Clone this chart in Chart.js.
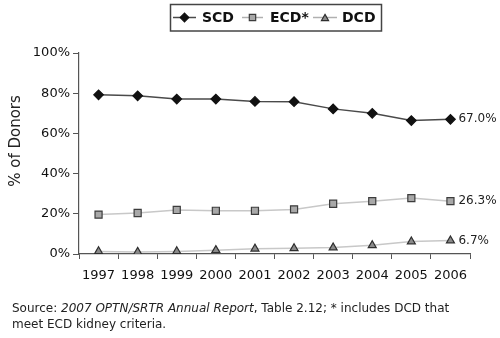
<!DOCTYPE html>
<html>
<head>
<meta charset="utf-8">
<script src="https://cdn.jsdelivr.net/npm/chart.js@4/dist/chart.umd.min.js"></script>
<style>
  html, body { margin: 0; padding: 0; background: #fff; }
  #wrap { width: 500px; height: 338px; }
</style>
</head>
<body>
<div id="wrap"><canvas id="c" width="500" height="338"></canvas></div>
<script>
// Share of deceased kidney donors by donor type, 1997-2006
const years = ['1997', '1998', '1999', '2000', '2001', '2002', '2003', '2004', '2005', '2006'];
const scd = [79.2, 78.7, 77.1, 77.1, 75.9, 75.8, 72.2, 70.0, 66.4, 67.0];
const ecd = [19.6, 20.4, 21.9, 21.5, 21.5, 22.2, 25.0, 26.3, 27.8, 26.3];
const dcd = [1.3, 1.0, 1.3, 1.9, 2.6, 2.8, 3.2, 4.3, 6.2, 6.7];
const seriesNames = ['SCD', 'ECD*', 'DCD'];
const yTicks = [0, 20, 40, 60, 80, 100];
const yTitle = '% of Donors';

const FONT = '"DejaVu Sans", "Liberation Sans", Arial, sans-serif';

const styles = [
  { line: '#4a4a4a', legendLine: '#4a4a4a', fill: '#111', border: '#111', pointStyle: 'rectRot', radius: 4.8 },
  { line: '#c8c8c8', legendLine: '#b0b0b0', fill: '#a8a8a8', border: '#3c3c3c', pointStyle: 'rect', radius: 5 },
  { line: '#c8c8c8', legendLine: '#b0b0b0', fill: '#8a8a8a', border: '#2e2e2e', pointStyle: 'triangle', radius: 4.6 }
];
const seriesData = [scd, ecd, dcd];

const datasets = seriesData.map((d, i) => ({
  label: seriesNames[i],
  data: d,
  borderColor: styles[i].line,
  borderWidth: 1.5,
  backgroundColor: styles[i].fill,
  pointStyle: styles[i].pointStyle,
  pointRadius: styles[i].radius,
  pointBackgroundColor: styles[i].fill,
  pointBorderColor: styles[i].border,
  pointBorderWidth: 1.2,
  tension: 0,
  fill: false
}));

// Legend box, axis title, end-of-series value labels and the source note
const decorations = {
  id: 'decorations',
  afterDraw(chart) {
    const ctx = chart.ctx;
    const xs = chart.scales.x, ys = chart.scales.y;

    // legend
    ctx.save();
    ctx.strokeStyle = '#444';
    ctx.lineWidth = 1.5;
    ctx.strokeRect(170.5, 4.5, 211, 26.5);
    const items = [
      { x0: 173, x1: 196, tx: 202 },
      { x0: 242, x1: 263, tx: 270 },
      { x0: 313, x1: 337, tx: 342 }
    ];
    const ly = 17.5;
    ctx.font = 'bold 14px ' + FONT;
    ctx.textBaseline = 'middle';
    ctx.textAlign = 'left';
    items.forEach((it, i) => {
      ctx.strokeStyle = styles[i].legendLine;
      ctx.lineWidth = 1.5;
      ctx.beginPath();
      ctx.moveTo(it.x0, ly);
      ctx.lineTo(it.x1, ly);
      ctx.stroke();
      ctx.save();
      ctx.fillStyle = styles[i].fill;
      ctx.strokeStyle = styles[i].border;
      ctx.lineWidth = 1.2;
      Chart.helpers.drawPoint(ctx, { pointStyle: styles[i].pointStyle, radius: styles[i].radius - 0.5, rotation: 0, borderWidth: 1.2 }, (it.x0 + it.x1) / 2, ly + (i === 2 ? 1 : 0));
      ctx.restore();
      ctx.fillStyle = '#111';
      ctx.fillText(seriesNames[i], it.tx, ly + 0.5);
    });
    ctx.restore();

    // y-axis title
    ctx.save();
    ctx.translate(16, 141);
    ctx.rotate(-Math.PI / 2);
    ctx.font = '15px ' + FONT;
    ctx.fillStyle = '#222';
    ctx.textAlign = 'center';
    ctx.textBaseline = 'middle';
    ctx.fillText(yTitle, 0, 0);
    ctx.restore();

    // value labels at the last year
    ctx.save();
    ctx.font = '12px ' + FONT;
    ctx.fillStyle = '#222';
    ctx.textAlign = 'left';
    ctx.textBaseline = 'middle';
    seriesData.forEach((d, i) => {
      const last = d.length - 1;
      const px = xs.getPixelForValue(last);
      const py = ys.getPixelForValue(d[last]);
      ctx.fillText(d[last].toFixed(1) + '%', px + 8, py);
    });
    ctx.restore();

    // source note
    ctx.save();
    ctx.fillStyle = '#222';
    ctx.textBaseline = 'middle';
    ctx.textAlign = 'left';
    const parts = [
      { t: 'Source: ', f: '12px ' + FONT },
      { t: '2007 OPTN/SRTR Annual Report', f: 'italic 12px ' + FONT },
      { t: ', Table 2.12; * includes DCD that', f: '12px ' + FONT }
    ];
    let x = 12;
    parts.forEach(p => {
      ctx.font = p.f;
      ctx.fillText(p.t, x, 309);
      x += ctx.measureText(p.t).width;
    });
    ctx.font = '12px ' + FONT;
    ctx.fillText('meet ECD kidney criteria.', 12, 325);
    ctx.restore();
  }
};

new Chart(document.getElementById('c'), {
  type: 'line',
  data: { labels: years, datasets },
  plugins: [decorations],
  options: {
    responsive: false,
    animation: false,
    devicePixelRatio: 1,
    layout: { padding: { top: 53, right: 30, bottom: 0, left: 0 } },
    plugins: { legend: { display: false }, tooltip: { enabled: false } },
    scales: {
      x: {
        type: 'category',
        offset: true,
        afterFit(scale) { scale.height = 84; },
        grid: {
          offset: true,
          drawOnChartArea: false,
          drawTicks: true,
          tickLength: 5,
          color: '#555',
          lineWidth: 1
        },
        border: { display: true, color: '#555', width: 1.2 },
        ticks: {
          color: '#111',
          font: { family: FONT, size: 13 },
          padding: 9,
          maxRotation: 0,
          autoSkip: false
        }
      },
      y: {
        min: 0,
        max: 100,
        afterFit(scale) { scale.width = 79; },
        afterBuildTicks(scale) { scale.ticks = yTicks.map(v => ({ value: v })); },
        grid: {
          drawOnChartArea: false,
          drawTicks: true,
          tickLength: 6,
          color: '#555',
          lineWidth: 1
        },
        border: { display: true, color: '#555', width: 1.2 },
        ticks: {
          color: '#111',
          font: { family: FONT, size: 13 },
          padding: 3,
          callback: v => v + '%'
        }
      }
    }
  }
});
</script>
</body>
</html>
